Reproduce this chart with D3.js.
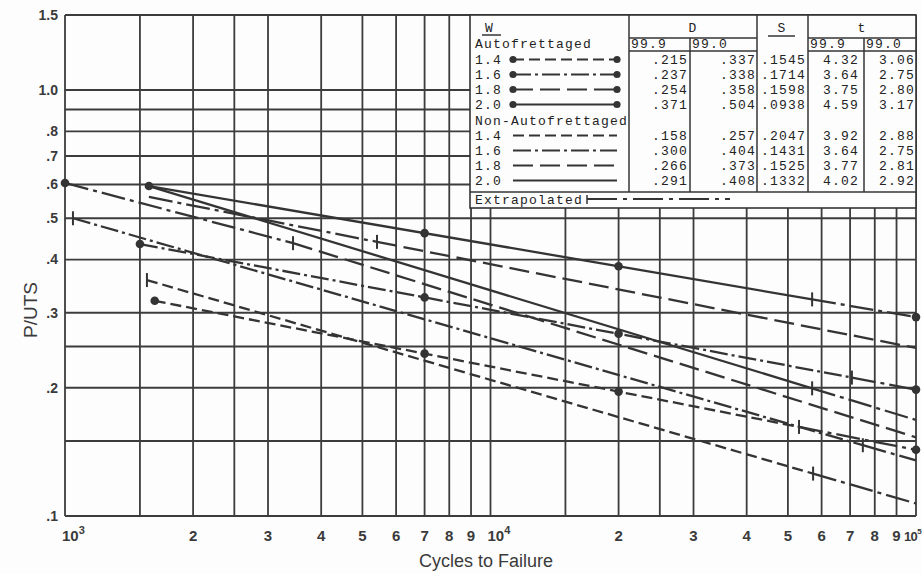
<!DOCTYPE html>
<html>
<head>
<meta charset="utf-8">
<script src="https://cdn.jsdelivr.net/npm/d3@7"></script>
<style>
  body { margin: 0; background: #fdfdfd; }
  svg { display: block; }
</style>
</head>
<body>
<div id="chart"></div>
<script>
// grid and tick values
var xGrid = [1000, 1500, 2000, 2500, 3000, 4000, 5000, 6000, 7000, 8000, 9000,
             10000, 15000, 20000, 25000, 30000, 40000, 50000, 60000, 70000, 80000, 90000, 100000];
var yGrid = [0.1, 0.15, 0.2, 0.25, 0.3, 0.4, 0.5, 0.6, 0.7, 0.8, 0.9, 1.0, 1.5];
var yLabels = [0.1, 0.2, 0.3, 0.4, 0.5, 0.6, 0.7, 0.8, 1.0, 1.5];
var xDigits = [2000, 3000, 4000, 5000, 6000, 7000, 8000, 9000,
               20000, 30000, 40000, 50000, 60000, 70000, 80000, 90000];
var xPowers = [1000, 10000, 100000];

// curves: [cycles, P/UTS]
var auto14 = [[1625, 0.320], [100000, 0.143]];
var auto16 = [[1500, 0.435], [100000, 0.198]];
var auto18 = [[1000, 0.605], [3435, 0.437], [100000, 0.153]];
var auto20 = [[1575, 0.595], [100000, 0.293]];
var non14 = [[1558, 0.358], [100000, 0.107]];
var non16 = [[1044, 0.500], [100000, 0.135]];
var non18 = [[1575, 0.561], [100000, 0.248]];
var non20 = [[1575, 0.595], [100000, 0.168]];

// cycles where the marked points sit on the autofrettaged curves
var autoDots = [7000, 20000];
// where extrapolation starts (right) or ends (left)
var tickRight = {auto14: 53100, auto16: 70700, auto20: 57000, non14: 57300, non16: 75000, non20: 57000};
var tickLeft = {auto18: 3435, non18: 5411};

// table
var autoRows = [
  ["1.4", ".215", ".337", ".1545", "4.32", "3.06"],
  ["1.6", ".237", ".338", ".1714", "3.64", "2.75"],
  ["1.8", ".254", ".358", ".1598", "3.75", "2.80"],
  ["2.0", ".371", ".504", ".0938", "4.59", "3.17"]
];
var nonRows = [
  ["1.4", ".158", ".257", ".2047", "3.92", "2.88"],
  ["1.6", ".300", ".404", ".1431", "3.64", "2.75"],
  ["1.8", ".266", ".373", ".1525", "3.77", "2.81"],
  ["2.0", ".291", ".408", ".1332", "4.02", "2.92"]
];

var W = 922, H = 573;
var ink = "#343434";
var dashes = {"1.4": "11,5", "1.6": "18,4,3,4", "1.8": "20,7", "2.0": null};
var extrapDash = "24,5,4,5";

var svg = d3.select("#chart").append("svg")
  .attr("width", W).attr("height", H)
  .style("font-family", "'Liberation Sans', Arial, sans-serif");

var x = d3.scaleLog().domain([1e3, 1e5]).range([65, 916]);
var y = d3.scaleLog().domain([0.1, 1.5]).range([516, 15]);

// grid
svg.append("g").selectAll("line").data(xGrid).enter().append("line")
  .attr("x1", d => x(d)).attr("x2", d => x(d))
  .attr("y1", y(1.5)).attr("y2", y(0.1))
  .attr("stroke", "#3c3c3c").attr("stroke-width", 1.8);
svg.append("g").selectAll("line").data(yGrid).enter().append("line")
  .attr("x1", x(1e3)).attr("x2", x(1e5))
  .attr("y1", d => y(d)).attr("y2", d => y(d))
  .attr("stroke", "#3c3c3c").attr("stroke-width", 1.8);

// y labels
var fmtY = function(d) { var s = d3.format(".1f")(d); return d < 1 ? s.replace(/^0/, "") : s; };
svg.append("g").selectAll("text").data(yLabels).enter().append("text")
  .attr("x", 58).attr("y", d => y(d)).attr("dy", "0.35em")
  .attr("text-anchor", "end")
  .attr("font-size", 14).attr("font-weight", "bold").attr("fill", "#3a3a3a")
  .text(fmtY);

// x labels
svg.append("g").selectAll("text").data(xDigits).enter().append("text")
  .attr("x", d => x(d)).attr("y", 541)
  .attr("text-anchor", "middle")
  .attr("font-size", 15).attr("font-weight", "bold").attr("fill", "#3a3a3a")
  .text(d => String(d).charAt(0));
var pw = svg.append("g").selectAll("text").data(xPowers).enter().append("text")
  .attr("x", d => d < 1e5 ? x(d) - 3 : 921)
  .attr("text-anchor", d => d < 1e5 ? "start" : "end")
  .attr("y", 541)
  .attr("font-size", d => d < 1e5 ? 15 : 13)
  .attr("letter-spacing", d => d < 1e5 ? 0 : -0.6)
  .attr("font-weight", "bold").attr("fill", "#3a3a3a");
pw.append("tspan").text("10");
pw.append("tspan").attr("dy", -7)
  .attr("font-size", d => d < 1e5 ? 11 : 8)
  .text(d => Math.round(Math.log10(d)));

svg.append("text")
  .attr("x", 486).attr("y", 567).attr("text-anchor", "middle")
  .attr("font-size", 18).attr("fill", "#3a3a3a")
  .text("Cycles to Failure");
svg.append("text")
  .attr("transform", "translate(37,310) rotate(-90)")
  .attr("text-anchor", "middle")
  .attr("font-size", 19).attr("fill", "#3a3a3a")
  .text("P/UTS");

// curves
function interp(pts, n) {
  for (var i = 0; i < pts.length - 1; i++) {
    var a = pts[i], b = pts[i + 1];
    if (n >= a[0] && n <= b[0]) {
      var t = (Math.log(n) - Math.log(a[0])) / (Math.log(b[0]) - Math.log(a[0]));
      return Math.exp(Math.log(a[1]) + t * (Math.log(b[1]) - Math.log(a[1])));
    }
  }
  return pts[pts.length - 1][1];
}
function part(pts, n0, n1) {
  var out = [[n0, interp(pts, n0)]];
  pts.forEach(function(p) { if (p[0] > n0 && p[0] < n1) out.push(p); });
  out.push([n1, interp(pts, n1)]);
  return out;
}

var series = [
  {key: "auto20", pts: auto20, w: "2.0", auto: true},
  {key: "auto16", pts: auto16, w: "1.6", auto: true},
  {key: "auto14", pts: auto14, w: "1.4", auto: true},
  {key: "auto18", pts: auto18, w: "1.8", auto: true},
  {key: "non20", pts: non20, w: "2.0", auto: false},
  {key: "non18", pts: non18, w: "1.8", auto: false},
  {key: "non16", pts: non16, w: "1.6", auto: false, startTick: true},
  {key: "non14", pts: non14, w: "1.4", auto: false, startTick: true}
];

var line = d3.line().x(d => x(d[0])).y(d => y(d[1]));
var gc = svg.append("g").attr("fill", "none").attr("stroke", ink).attr("stroke-width", 2.3);

function tick(n, p) {
  gc.append("line")
    .attr("x1", x(n)).attr("x2", x(n))
    .attr("y1", y(p) - 7).attr("y2", y(p) + 7)
    .attr("stroke-width", 2);
}

series.forEach(function(s) {
  var first = s.pts[0][0], last = s.pts[s.pts.length - 1][0];
  var main = [first, last], ext = null, tn = null;
  if (tickRight[s.key]) { tn = tickRight[s.key]; main = [first, tn]; ext = [tn, last]; }
  if (tickLeft[s.key]) { tn = tickLeft[s.key]; main = [tn, last]; ext = [first, tn]; }
  gc.append("path").attr("d", line(part(s.pts, main[0], main[1])))
    .attr("stroke-dasharray", dashes[s.w]);
  if (ext) {
    gc.append("path").attr("d", line(part(s.pts, ext[0], ext[1])))
      .attr("stroke-dasharray", extrapDash);
    tick(tn, interp(s.pts, tn));
  }
  if (s.startTick) tick(first, s.pts[0][1]);
  if (s.auto) {
    var dn = [first].concat(autoDots.filter(n => n > first && n < last && s.pts.length == 2));
    if (s.pts.length == 2) dn.push(last);
    svg.append("g").selectAll("circle").data(dn).enter().append("circle")
      .attr("cx", n => x(n)).attr("cy", n => y(interp(s.pts, n)))
      .attr("r", 4.3).attr("fill", ink);
  }
});

// legend table
var tb = svg.append("g")
  .style("font-family", "'Liberation Mono', 'DejaVu Sans Mono', monospace")
  .attr("font-size", 13).attr("letter-spacing", 1.2).attr("fill", "#222");
tb.append("rect").attr("x", 470).attr("y", 15).attr("width", 446).attr("height", 193)
  .attr("fill", "#fdfdfd").attr("stroke", ink).attr("stroke-width", 1.6);

function hl(x1, x2, yy) {
  tb.append("line").attr("x1", x1).attr("x2", x2).attr("y1", yy).attr("y2", yy)
    .attr("stroke", ink).attr("stroke-width", 1.5);
}
function vl(xx, y1, y2) {
  tb.append("line").attr("x1", xx).attr("x2", xx).attr("y1", y1).attr("y2", y2)
    .attr("stroke", ink).attr("stroke-width", 1.5);
}
vl(629, 15, 192); vl(757, 15, 192); vl(808, 15, 192);
vl(690, 38, 192); vl(864, 38, 192);
hl(629, 757, 38); hl(808, 916, 38);
hl(629, 757, 51); hl(808, 916, 51);
hl(470, 916, 192);
hl(482, 501, 35); hl(768, 795, 36);

tb.append("text").attr("x", 485).attr("y", 32).text("W");
tb.append("text").attr("x", 693).attr("y", 32).attr("text-anchor", "middle").text("D");
tb.append("text").attr("x", 782).attr("y", 32).attr("text-anchor", "middle").text("S");
tb.append("text").attr("x", 862).attr("y", 32).attr("text-anchor", "middle").text("t");
tb.append("text").attr("x", 475).attr("y", 48).text("Autofrettaged");
[[631, "99.9"], [692, "99.0"], [810, "99.9"], [866, "99.0"]].forEach(function(c) {
  tb.append("text").attr("x", c[0]).attr("y", 48).text(c[1]);
});
tb.append("text").attr("x", 475).attr("y", 125).text("Non-Autofrettaged");

var colX = [688, 756, 806, 859, 915];
function rows(data, base, auto) {
  data.forEach(function(r, i) {
    var yy = base + i * 15;
    tb.append("text").attr("x", 475).attr("y", yy).text(r[0]);
    r.slice(1).forEach(function(v, j) {
      tb.append("text").attr("x", colX[j]).attr("y", yy).attr("text-anchor", "end").text(v);
    });
    var ly = yy - 4.5;
    tb.append("line").attr("x1", 513).attr("x2", 617).attr("y1", ly).attr("y2", ly)
      .attr("stroke", ink).attr("stroke-width", 2)
      .attr("stroke-dasharray", dashes[r[0]]);
    if (auto) {
      [513, 617].forEach(function(cx) {
        tb.append("circle").attr("cx", cx).attr("cy", ly).attr("r", 3.6).attr("fill", ink);
      });
    }
  });
}
rows(autoRows, 64, true);
rows(nonRows, 140, false);

tb.append("text").attr("x", 475).attr("y", 204).text("Extrapolated");
tb.append("line").attr("x1", 587).attr("x2", 730).attr("y1", 199).attr("y2", 199)
  .attr("stroke", ink).attr("stroke-width", 1.8).attr("stroke-dasharray", "30,6,4,6");
tb.append("line").attr("x1", 587).attr("x2", 587).attr("y1", 195).attr("y2", 204)
  .attr("stroke", ink).attr("stroke-width", 1.5);
</script>
</body>
</html>
